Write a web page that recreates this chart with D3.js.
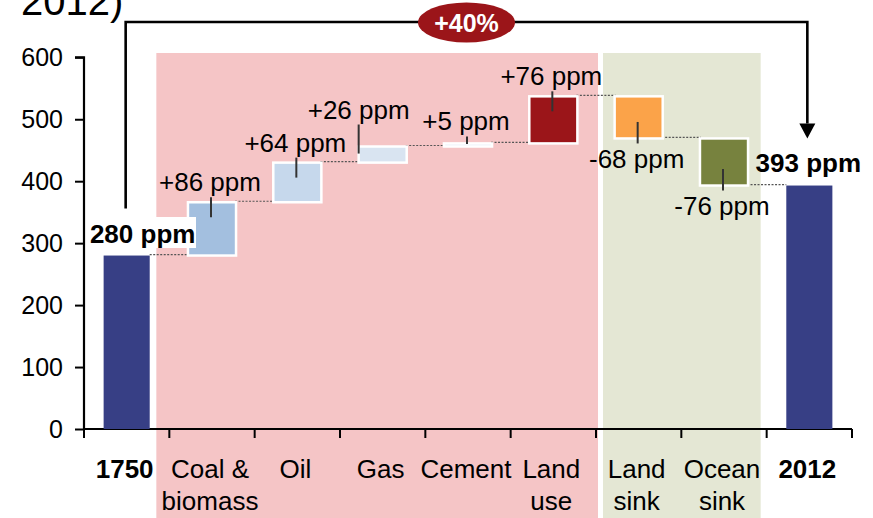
<!DOCTYPE html>
<html>
<head>
<meta charset="utf-8">
<script src="https://cdn.jsdelivr.net/npm/d3@7"></script>
<style>
  body { margin: 0; background: #fff; }
  text { font-family: "Liberation Sans", Arial, sans-serif; }
</style>
</head>
<body>
<div id="chart"></div>
<script>
// data
const categories = ["1750", "Coal & biomass", "Oil", "Gas", "Cement", "Land use", "Land sink", "Ocean sink", "2012"];
const categoryLines = [["1750"], ["Coal &", "biomass"], ["Oil"], ["Gas"], ["Cement"], ["Land", "use"], ["Land", "sink"], ["Ocean", "sink"], ["2012"]];
const values = [280, 86, 64, 26, 5, 76, -68, -76, 393];
const isTotal = [true, false, false, false, false, false, false, false, true];
const valueLabels = ["280 ppm", "+86 ppm", "+64 ppm", "+26 ppm", "+5 ppm", "+76 ppm", "-68 ppm", "-76 ppm", "393 ppm"];
const barColors = ["#373f85", "#a3bfdf", "#c6d8ec", "#d9e4f1", "#e4ebf5", "#9b1519", "#fba349", "#77823e", "#373f85"];
const yTicks = [0, 100, 200, 300, 400, 500, 600];
const changeLabel = "+40%";
const titleTail = "2012)";

const width = 873;
const height = 518;
const marginLeft = 84;
const marginRight = 21;
const yTop = 57.3;
const yBottom = 429;

// running totals for the waterfall
let running = 0;
const bars = values.map((v, i) => {
    let y0, y1;
    if (isTotal[i]) { y0 = 0; y1 = v; running = v; }
    else { y0 = running; y1 = running + v; running = y1; }
    return { cat: categories[i], lines: categoryLines[i], value: v, total: isTotal[i], y0, y1, label: valueLabels[i], color: barColors[i], i };
});

const svg = d3.select("#chart")
    .append("svg")
    .attr("width", width)
    .attr("height", height)
    .attr("viewBox", [0, 0, width, height]);

const x = d3.scaleBand(categories, [marginLeft, width - marginRight]).paddingInner(0.46).paddingOuter(0.23);
const step = x.step();
const bandLeft = c => x(c) - step * x.paddingInner() / 2;
const cx = c => x(c) + x.bandwidth() / 2;
const y = d3.scaleLinear([0, 600], [yBottom, yTop]);

// shaded groups: emissions (pink) and sinks (green)
svg.append("rect")
    .attr("x", bandLeft("Coal & biomass") - 13)
    .attr("y", 53)
    .attr("width", bandLeft("Land sink") + 2 - (bandLeft("Coal & biomass") - 13))
    .attr("height", height - 53)
    .attr("fill", "#f5c5c6");
svg.append("rect")
    .attr("x", bandLeft("Land sink") + 7)
    .attr("y", 53)
    .attr("width", bandLeft("2012") - 6 - (bandLeft("Land sink") + 7))
    .attr("height", height - 53)
    .attr("fill", "#e4e7d4");

// y axis
svg.append("g")
    .attr("transform", `translate(${marginLeft},0)`)
    .call(d3.axisLeft(y).tickValues(yTicks).tickSize(9).tickPadding(12))
    .call(g => g.select(".domain").attr("stroke-width", 2.2).attr("d", `M-9,${yTop}H0V${yBottom}`))
    .call(g => g.selectAll(".tick line").attr("stroke-width", 2))
    .call(g => g.selectAll(".tick text")
        .attr("font-size", 25)
        .attr("fill", "#000")
        .attr("font-family", "Liberation Sans, Arial, sans-serif"));

// x axis with ticks between categories
const tickXs = categories.map(c => bandLeft(c)).concat([bandLeft("2012") + step]);
const xAxis = svg.append("g");
xAxis.append("line")
    .attr("x1", marginLeft).attr("x2", tickXs[tickXs.length - 1])
    .attr("y1", yBottom).attr("y2", yBottom)
    .attr("stroke", "#000").attr("stroke-width", 2.2);
xAxis.selectAll("line.tk").data(tickXs).join("line")
    .attr("class", "tk")
    .attr("x1", d => d).attr("x2", d => d)
    .attr("y1", yBottom).attr("y2", yBottom + 9)
    .attr("stroke", "#000").attr("stroke-width", 2);

const catText = svg.append("g").selectAll("text").data(bars).join("text")
    .attr("x", d => cx(d.cat) - 2)
    .attr("y", 478)
    .attr("text-anchor", "middle")
    .attr("font-size", 26)
    .attr("font-weight", d => d.total ? "bold" : "normal")
    .attr("fill", "#000");
catText.selectAll("tspan").data(d => d.lines).join("tspan")
    .attr("x", function () { return d3.select(this.parentNode).attr("x"); })
    .attr("dy", (d, i) => i === 0 ? 0 : 32)
    .text(d => d);

// connectors between bars at the running total
svg.append("g").selectAll("line").data(bars.slice(0, -1)).join("line")
    .attr("x1", d => x(d.cat) + x.bandwidth())
    .attr("x2", d => x(categories[d.i + 1]))
    .attr("y1", d => y(d.y1) - 1)
    .attr("y2", d => y(d.y1) - 1)
    .attr("stroke", "#555")
    .attr("stroke-width", 1.2)
    .attr("stroke-dasharray", "2,1.5");

// bars
svg.append("g").selectAll("rect").data(bars).join("rect")
    .attr("x", d => x(d.cat) - (d.total ? 0 : 1))
    .attr("width", d => x.bandwidth() + (d.total ? 0 : 2))
    .attr("y", d => y(Math.max(d.y0, d.y1)))
    .attr("height", d => Math.abs(y(d.y0) - y(d.y1)))
    .attr("fill", d => d.color)
    .attr("stroke", d => d.total ? "none" : "#fff")
    .attr("stroke-width", 2.5);

// value labels with leader lines
const labelNudge = { 3: { dx: -22, up: 28 }, 4: { dx: 0, up: 13 } };
bars.forEach(d => {
    const top = y(Math.max(d.y0, d.y1));
    const bottom = y(Math.min(d.y0, d.y1));
    const mid = (top + bottom) / 2;
    const c = cx(d.cat);
    let tx, ty, l1, l2;
    if (d.total) {
        if (d.i === 0) {
            tx = c + 16; ty = top - 12.5;
            svg.append("rect")
                .attr("x", 86).attr("y", 217)
                .attr("width", 110).attr("height", 31)
                .attr("fill", "#fff");
        } else {
            tx = c - 1; ty = top - 14;
        }
    } else if (d.value > 0) {
        const n = labelNudge[d.i] || { dx: 0, up: 11 };
        tx = c - 2 + n.dx; ty = top - n.up;
        l1 = ty + 6; l2 = Math.min(top + 15, mid - 1);
    } else {
        tx = c - 2; ty = bottom + 29.5;
        l1 = bottom - 16.5; l2 = bottom + 5;
    }
    if (l1 !== undefined) {
        const lx = (labelNudge[d.i] && labelNudge[d.i].dx) ? tx : c - 1;
        svg.append("line")
            .attr("x1", lx).attr("x2", lx)
            .attr("y1", l1).attr("y2", l2)
            .attr("stroke", "#333").attr("stroke-width", 2);
    }
    svg.append("text")
        .attr("x", tx).attr("y", ty)
        .attr("text-anchor", "middle")
        .attr("font-size", 26)
        .attr("font-weight", d.total ? "bold" : "normal")
        .attr("fill", "#000")
        .text(d.label);
});

// bracket from 1750 to 2012 with the overall change
const bx0 = cx("1750") - 1;
const bx1 = cx("2012") - 2;
const by = 22;
svg.append("path")
    .attr("d", `M${bx0},${y(values[0]) - 47}V${by}H${bx1}V${y(values[8]) - 62}`)
    .attr("fill", "none")
    .attr("stroke", "#000")
    .attr("stroke-width", 2.6);
const ah = y(values[8]) - 47;
svg.append("path")
    .attr("d", `M${bx1 - 8},${ah - 15}L${bx1 + 8},${ah - 15}L${bx1},${ah}Z`)
    .attr("fill", "#000");

const ex = (bx0 + bx1) / 2;
svg.append("ellipse")
    .attr("cx", ex).attr("cy", 22.5)
    .attr("rx", 48.5).attr("ry", 20)
    .attr("fill", "#9b1519");
svg.append("text")
    .attr("x", ex).attr("y", 31.5)
    .attr("text-anchor", "middle")
    .attr("font-size", 25)
    .attr("font-weight", "bold")
    .attr("fill", "#fff")
    .text(changeLabel);

// tail of the title, cut off at the top edge
svg.append("text")
    .attr("x", 21)
    .attr("y", 15)
    .attr("font-size", 40)
    .attr("fill", "#000")
    .text(titleTail);
</script>
</body>
</html>
